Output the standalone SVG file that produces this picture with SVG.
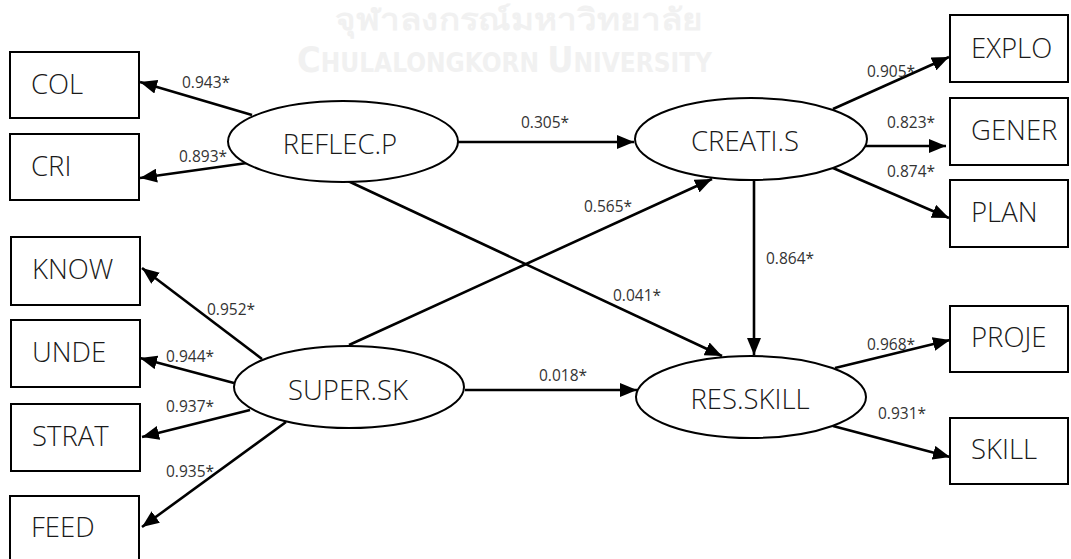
<svg xmlns="http://www.w3.org/2000/svg" width="1071" height="559" viewBox="0 0 1071 559">
<style>
.box{fill:#fff;stroke:#000;stroke-width:2}
.ell{fill:#fff;stroke:#000;stroke-width:2}
.nt{font-family:"Open Sans","Liberation Sans",sans-serif;font-size:27.5px;font-weight:300;fill:#1a1a1a}
.lb{font-family:"Open Sans","Liberation Sans",sans-serif;font-size:15.5px;font-weight:400;fill:#333}
.cn line{stroke:#000;stroke-width:2.6;marker-end:url(#ah)}
.wm{font-family:"DejaVu Sans Condensed","DejaVu Sans","Noto Sans",sans-serif;font-weight:bold;fill:#f1f1f1}
</style>
<defs>
<marker id="ah" markerUnits="userSpaceOnUse" markerWidth="18" markerHeight="14" refX="17" refY="7" orient="auto">
<path d="M0,0 L17,7 L0,14 Z" fill="#000"/>
</marker>
</defs>
<rect width="1071" height="559" fill="#fff"/>
<g id="watermark">
<text class="wm" x="335" y="30" font-size="30" textLength="368" lengthAdjust="spacingAndGlyphs">จุฬาลงกรณ์มหาวิทยาลัย</text>
<text class="wm" x="297" y="72" font-size="26" textLength="415" lengthAdjust="spacingAndGlyphs"><tspan font-size="36">C</tspan>HULALONGKORN <tspan font-size="36">U</tspan>NIVERSITY</text>
</g>
<g id="connectors" class="cn">
<line x1="252" y1="115" x2="140" y2="82"/>
<line x1="247" y1="163" x2="140" y2="178"/>
<line x1="458" y1="142" x2="634" y2="142"/>
<line x1="348" y1="181" x2="722" y2="356"/>
<line x1="349" y1="345" x2="712" y2="179"/>
<line x1="465" y1="390" x2="637" y2="390"/>
<line x1="754" y1="180" x2="754" y2="355"/>
<line x1="833" y1="109" x2="949" y2="57"/>
<line x1="857" y1="146" x2="946" y2="146"/>
<line x1="833" y1="168" x2="949" y2="218"/>
<line x1="835" y1="368" x2="950" y2="340"/>
<line x1="833" y1="426" x2="950" y2="457"/>
<line x1="262" y1="359" x2="142" y2="268"/>
<line x1="234" y1="383" x2="140" y2="358"/>
<line x1="250" y1="410" x2="142" y2="437"/>
<line x1="286" y1="422" x2="142" y2="527"/>
</g>
<g id="labels">
<text class="lb" x="182" y="88">0.943*</text>
<text class="lb" x="179" y="162">0.893*</text>
<text class="lb" x="521" y="128">0.305*</text>
<text class="lb" x="584" y="212">0.565*</text>
<text class="lb" x="613" y="301">0.041*</text>
<text class="lb" x="766" y="264">0.864*</text>
<text class="lb" x="539" y="381">0.018*</text>
<text class="lb" x="867" y="77">0.905*</text>
<text class="lb" x="887" y="128">0.823*</text>
<text class="lb" x="887" y="177">0.874*</text>
<text class="lb" x="867" y="350">0.968*</text>
<text class="lb" x="878" y="419">0.931*</text>
<text class="lb" x="207" y="315">0.952*</text>
<text class="lb" x="166" y="362">0.944*</text>
<text class="lb" x="166" y="412">0.937*</text>
<text class="lb" x="166" y="477">0.935*</text>
</g>
<g id="COL"><rect class="box" x="10" y="52" width="129" height="66"/><text class="nt" x="31" y="94">COL</text></g>
<g id="CRI"><rect class="box" x="10" y="134" width="129" height="66"/><text class="nt" x="31" y="176">CRI</text></g>
<g id="KNOW"><rect class="box" x="11" y="237" width="129" height="68"/><text class="nt" x="32" y="279">KNOW</text></g>
<g id="UNDE"><rect class="box" x="11" y="320" width="129" height="67"/><text class="nt" x="32" y="362">UNDE</text></g>
<g id="STRAT"><rect class="box" x="11" y="404" width="129" height="67"/><text class="nt" x="32" y="446">STRAT</text></g>
<g id="FEED"><rect class="box" x="10" y="496" width="129" height="70"/><text class="nt" x="31" y="537">FEED</text></g>
<g id="EXPLO"><rect class="box" x="950" y="15" width="118" height="67"/><text class="nt" x="971" y="58">EXPLO</text></g>
<g id="GENER"><rect class="box" x="950" y="98" width="118" height="67"/><text class="nt" x="971" y="140">GENER</text></g>
<g id="PLAN"><rect class="box" x="950" y="180" width="118" height="67"/><text class="nt" x="971" y="222">PLAN</text></g>
<g id="PROJE"><rect class="box" x="950" y="306" width="118" height="66"/><text class="nt" x="971" y="347">PROJE</text></g>
<g id="SKILL"><rect class="box" x="950" y="418" width="118" height="66"/><text class="nt" x="971" y="459">SKILL</text></g>
<g id="REFLEC.P"><ellipse class="ell" cx="343" cy="141.5" rx="115" ry="40.5"/><text class="nt" x="340" y="154" text-anchor="middle">REFLEC.P</text></g>
<g id="CREATI.S"><ellipse class="ell" cx="751" cy="139" rx="116" ry="41"/><text class="nt" x="745" y="151" text-anchor="middle">CREATI.S</text></g>
<g id="SUPER.SK"><ellipse class="ell" cx="349" cy="387" rx="115" ry="41"/><text class="nt" x="348" y="400" text-anchor="middle">SUPER.SK</text></g>
<g id="RES.SKILL"><ellipse class="ell" cx="751" cy="397" rx="115" ry="41"/><text class="nt" x="750" y="409" text-anchor="middle">RES.SKILL</text></g>
</svg>
